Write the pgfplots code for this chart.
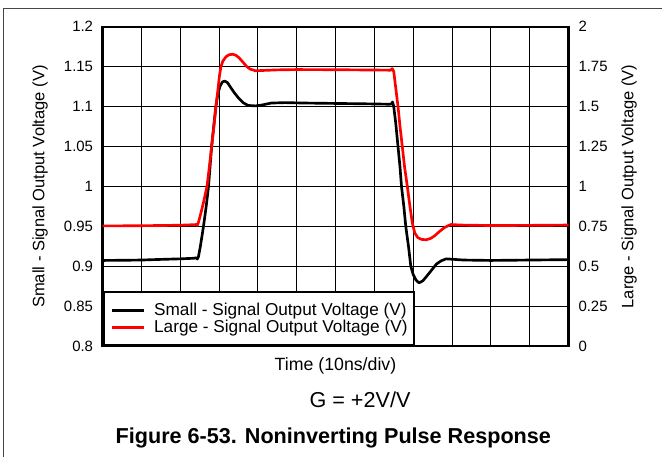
\documentclass[border=0pt]{standalone}
\usepackage{fontspec}
\setmainfont{Liberation Sans}
\usepackage{pgfplots}
\pgfplotsset{compat=1.18}

\begin{document}
\begin{tikzpicture}
\useasboundingbox (0,0) rectangle (496.5pt,342.75pt);
\draw[gray!55!black, line width=1.1pt] (2.5pt,0pt) -- (2.5pt,336.4pt) -- (496.5pt,336.4pt);

\pgfplotsset{
  pulse/.style={
    at={(76.875pt,83.0pt)}, anchor=south west,
    scale only axis, width=349.5pt, height=239.7pt,
    xmin=0, xmax=12,
    major tick length=0pt,
    axis line style={line width=1.6pt},
    /pgf/number format/assume math mode=true,
    tick label style={font=\fontsize{11.2}{13}\selectfont},
    ylabel style={font=\fontsize{12.4}{14}\selectfont, anchor=center},
  }
}

% small signal, left axis
\begin{axis}[
  pulse,
  ymin=0.8, ymax=1.2,
  xtick={0,1,...,12}, xticklabels={},
  ytick={0.8,0.85,0.9,0.95,1,1.05,1.1,1.15,1.2},
  yticklabels={0.8,0.85,0.9,0.95,1,1.05,1.1,1.15,1.2},
  ytick pos=left,
  yticklabel style={inner sep=0pt, anchor=east, xshift=-6.9pt},
  grid=major, grid style={black, line width=0.6pt},
  xlabel={Time (10ns/div)},
  xlabel style={at={(axis description cs:0.5,0)}, anchor=center, yshift=-14.8pt, font=\fontsize{13.3}{15}\selectfont},
  ylabel={Small - Signal Output Voltage (V)},
  ylabel style={at={(axis description cs:-0.134,0.5)}},
]
\addplot[black, line width=2pt, line join=round] coordinates {
(0,0.9075)(0.5,0.9077)(1,0.908)(1.5,0.9088)(2,0.9095)(2.35,0.9102)(2.41,0.9108)(2.44,0.9092)
(2.47,0.912)(2.52,0.925)(2.6,0.95)(2.67,0.975)(2.73,1.0)(2.77,1.025)(2.81,1.05)(2.87,1.078)
(2.92,1.1)(2.97,1.116)(3.03,1.126)(3.09,1.131)(3.15,1.132)(3.22,1.13)(3.3,1.124)(3.4,1.117)
(3.5,1.111)(3.62,1.105)(3.75,1.1015)(3.94,1.1009)(4.1,1.102)(4.35,1.1045)(4.7,1.105)(5.2,1.1045)
(6,1.104)(6.8,1.1035)(7.4,1.103)(7.44,1.1035)(7.47,1.1058)(7.5,1.1)(7.55,1.08)(7.61,1.05)
(7.66,1.025)(7.7,1.0)(7.76,0.975)(7.81,0.95)(7.88,0.925)(7.94,0.9)(8.0,0.89)(8.07,0.883)
(8.15,0.8795)(8.25,0.882)(8.37,0.889)(8.5,0.897)(8.6,0.903)(8.72,0.907)(8.85,0.9095)(9.0,0.909)
(9.3,0.908)(10,0.9075)(11,0.908)(12,0.9085)
};
\end{axis}

% large signal, right axis
\begin{axis}[
  pulse,
  ymin=0, ymax=2,
  hide x axis,
  axis line style={draw=none},
  ytick={0,0.25,0.5,0.75,1,1.25,1.5,1.75,2},
  yticklabels={0,0.25,0.5,0.75,1,1.25,1.5,1.75,2},
  ytick pos=right, yticklabel pos=right,
  yticklabel style={inner sep=0pt, anchor=west, xshift=7.3pt},
  ylabel={Large - Signal Output Voltage (V)},
  ylabel style={at={(axis description cs:1.13,0.5)}, rotate=0},
  legend cell align=left,
  legend image code/.code={
    \path[draw=none, fill=none] (-3pt,0pt) -- (30pt,0pt);
    \draw[#1] (0pt,0pt) -- (24pt,0pt);
  },
  legend style={at={(rel axis cs:0,0)}, anchor=south west,
    draw=black, line width=1.5pt, fill=white,
    font=\fontsize{12.9}{15}\selectfont,
    inner xsep=3pt, inner ysep=7pt,
    nodes={inner xsep=2pt, inner ysep=1pt}},
]
\addlegendimage{black, line width=2pt}
\addlegendentry{Small - Signal Output Voltage (V)}
\addplot[red, line width=2pt, line join=round] coordinates {
(0,0.754)(0.5,0.754)(1,0.755)(1.5,0.756)(2,0.758)(2.38,0.7615)(2.42,0.7625)(2.44,0.757)
(2.47,0.775)(2.52,0.82)(2.6,0.9)(2.69,1.0)(2.75,1.12)(2.81,1.25)(2.87,1.38)(2.92,1.5)
(2.97,1.6)(3.01,1.69)(3.05,1.75)(3.1,1.785)(3.18,1.812)(3.26,1.825)(3.35,1.8275)(3.43,1.822)
(3.52,1.805)(3.6,1.783)(3.71,1.752)(3.8,1.735)(3.94,1.7245)(4.1,1.726)(4.5,1.73)(5,1.732)
(6,1.731)(7,1.729)(7.42,1.728)(7.46,1.738)(7.5,1.72)(7.55,1.62)(7.61,1.5)(7.66,1.38)
(7.72,1.25)(7.78,1.12)(7.85,1.0)(7.92,0.87)(7.98,0.77)(8.04,0.71)(8.12,0.68)(8.22,0.669)
(8.34,0.667)(8.45,0.675)(8.56,0.693)(8.68,0.719)(8.8,0.742)(8.9,0.755)(8.98,0.7625)(9.2,0.759)
(10,0.756)(11,0.757)(12,0.759)
};
\addlegendentry{Large - Signal Output Voltage (V)}
\end{axis}

\node[font=\fontsize{16.2}{19}\selectfont] at (270pt,42.75pt) {G = +2V/V};
\node[font=\bfseries\fontsize{16.2}{19}\selectfont] at (250pt,14.25pt) {Figure 6-53. Noninverting Pulse Response};
\end{tikzpicture}
\end{document}
